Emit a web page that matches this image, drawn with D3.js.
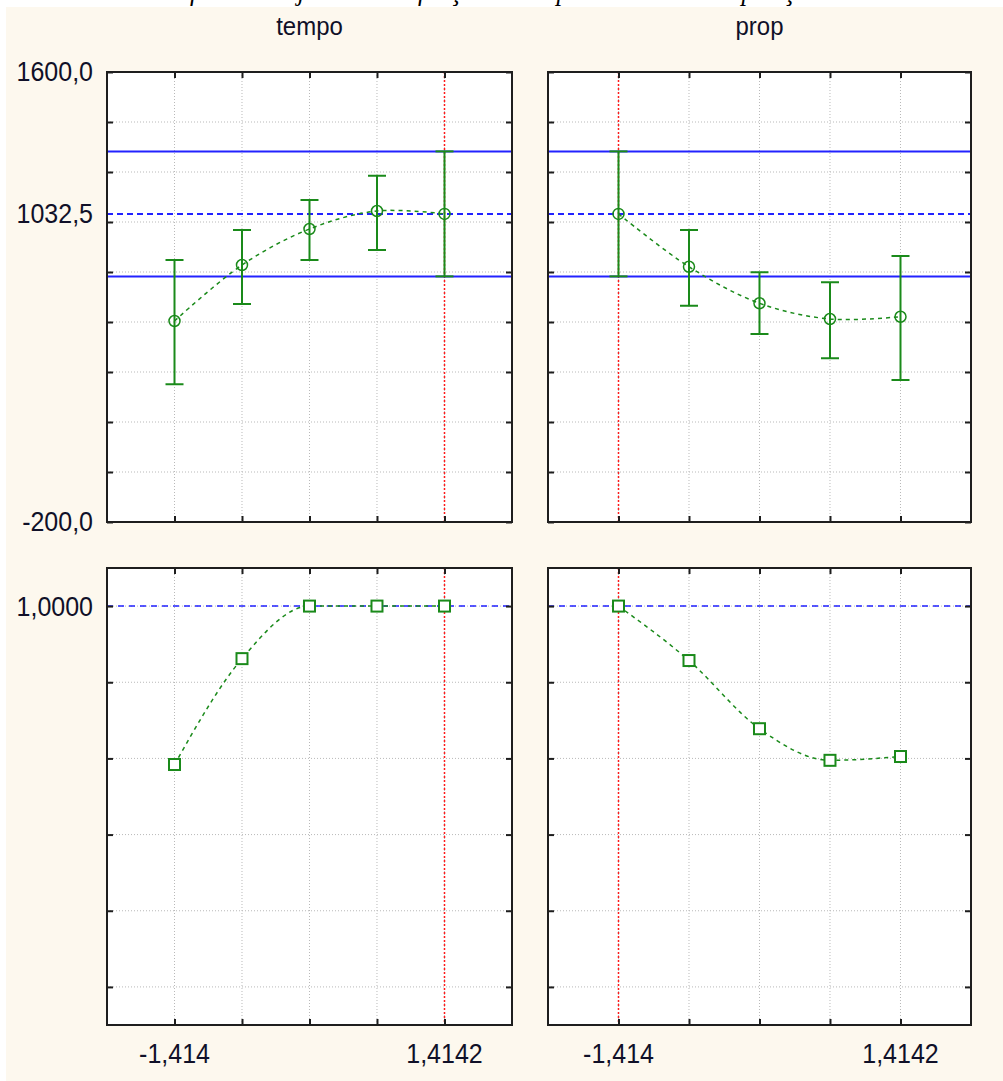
<!DOCTYPE html>
<html>
<head>
<meta charset="utf-8">
<script src="https://cdn.jsdelivr.net/npm/d3@7"></script>
<style>
  html, body { margin: 0; padding: 0; background: #ffffff; }
  svg { display: block; }
</style>
</head>
<body>
<svg id="chart" width="1003" height="1081"></svg>
<script>
// Factor levels (coded) and their tick labels
const levels = [-1.414, -0.707, 0, 0.707, 1.4142];
const levelLabels = ["-1,414", "", "", "", "1,4142"];

// Predicted response per level, with confidence limits
const tempoMean = [604, 828, 972, 1044, 1032.5];
const tempoLow  = [351, 672, 848, 888, 782.5];
const tempoHigh = [848, 968, 1088, 1185, 1282.5];

const propMean = [1032.5, 821, 675, 612, 621];
const propLow  = [782.5, 665, 552, 455, 368];
const propHigh = [1282.5, 968, 799, 759, 864];

// Desirability per level
const tempoDesir = [0.584, 0.862, 1, 1, 1];
const propDesir  = [1, 0.857, 0.678, 0.595, 0.605];

// Optimum response and its confidence band
const optimumValue = 1032.5;
const optimumBand = [782.5, 1282.5];
const optimumDesir = 1;
const optimumLevel = { tempo: 1.4142, prop: -1.414 };

// Axis settings and labels
const responseDomain = [-200, 1600];
const responseGrid = d3.range(-200, 1601, 200);
const responseLabels = [[1600, "1600,0"], [1032.5, "1032,5"], [-200, "-200,0"]];
const desirDomain = [-0.1, 1.1];
const desirGrid = [0, 0.2, 0.4, 0.6, 0.8, 1.0];
const desirLabels = [[1, "1,0000"]];

const svg = d3.select("#chart");
const W = 1003, H = 1081;

// Caption running off the top edge of the page
svg.append("text")
  .attr("x", 520).attr("y", 0)
  .attr("text-anchor", "middle")
  .attr("font-family", "Liberation Serif, Times New Roman, serif")
  .attr("font-style", "italic")
  .attr("font-size", 27)
  .attr("textLength", 735)
  .attr("lengthAdjust", "spacingAndGlyphs")
  .attr("fill", "#000")
  .text("Perfis de desejabilidade: função de respostas com a composição ótima");

// Page background
svg.append("rect")
  .attr("x", 6).attr("y", 7).attr("width", W - 6).attr("height", H - 7)
  .attr("fill", "#fdf8ee");

const FONT = "Liberation Sans, Arial, sans-serif";
const GREEN = "#1a8a1a";
const BLUE = "#2222ff";
const RED = "#ff1a1a";
const GRID = "#b9b9b9";
const FRAME = "#1e1e1e";
const INK = "#101028";

const cols = [
  { name: "tempo", x0: 107, x1: 512, mean: tempoMean, low: tempoLow, high: tempoHigh, desir: tempoDesir, opt: optimumLevel.tempo },
  { name: "prop",  x0: 548, x1: 971, mean: propMean,  low: propLow,  high: propHigh,  desir: propDesir,  opt: optimumLevel.prop }
];
const rows = [
  { kind: "response", y0: 72, y1: 522 },
  { kind: "desir",    y0: 568, y1: 1025 }
];

function label(g, x, y, txt, anchor, size) {
  g.append("text")
    .attr("transform", `translate(${x},${y}) scale(1,1.1)`)
    .attr("text-anchor", anchor)
    .attr("dominant-baseline", "central")
    .attr("font-family", FONT)
    .attr("font-size", size)
    .attr("fill", INK)
    .text(txt);
}

cols.forEach((c, ci) => {
  // column title
  svg.append("text")
    .attr("transform", `translate(${(c.x0 + c.x1) / 2},35) scale(1,1.08)`)
    .attr("text-anchor", "middle")
    .attr("font-family", FONT)
    .attr("font-size", 24)
    .attr("fill", INK)
    .text(c.name);

  const step = 0.7071;
  const x = d3.scaleLinear()
    .domain([levels[0] - step, levels[4] + step])
    .range([c.x0, c.x1]);

  rows.forEach((r, ri) => {
    const isResp = r.kind === "response";
    const y = d3.scaleLinear()
      .domain(isResp ? responseDomain : desirDomain)
      .range([r.y1, r.y0]);
    const grid = isResp ? responseGrid : desirGrid;
    const g = svg.append("g");

    // plot area
    g.append("rect")
      .attr("x", c.x0).attr("y", r.y0)
      .attr("width", c.x1 - c.x0).attr("height", r.y1 - r.y0)
      .attr("fill", "#fff");

    // dotted grid
    g.append("g").selectAll("line").data(grid.filter(v => y(v) > r.y0 + 1 && y(v) < r.y1 - 1)).join("line")
      .attr("x1", c.x0).attr("x2", c.x1)
      .attr("y1", d => y(d)).attr("y2", d => y(d))
      .attr("stroke", GRID).attr("stroke-width", 1).attr("stroke-dasharray", "1,2");
    g.append("g").selectAll("line").data(levels).join("line")
      .attr("x1", d => x(d)).attr("x2", d => x(d))
      .attr("y1", r.y0).attr("y2", r.y1)
      .attr("stroke", GRID).attr("stroke-width", 1).attr("stroke-dasharray", "1,2");

    // optimum level (red dotted)
    g.append("line")
      .attr("x1", x(c.opt)).attr("x2", x(c.opt))
      .attr("y1", r.y0).attr("y2", r.y1)
      .attr("stroke", RED).attr("stroke-width", 1.5).attr("stroke-dasharray", "2,2");

    if (isResp) {
      // confidence band of the optimum
      g.append("g").selectAll("line").data(optimumBand).join("line")
        .attr("x1", c.x0).attr("x2", c.x1)
        .attr("y1", d => y(d)).attr("y2", d => y(d))
        .attr("stroke", BLUE).attr("stroke-width", 2);
      g.append("line")
        .attr("x1", c.x0).attr("x2", c.x1)
        .attr("y1", y(optimumValue)).attr("y2", y(optimumValue))
        .attr("stroke", BLUE).attr("stroke-width", 2).attr("stroke-dasharray", "6,4");

      const pts = levels.map((l, i) => [x(l), y(c.mean[i])]);
      g.append("path")
        .attr("d", d3.line().curve(d3.curveCatmullRom)(pts))
        .attr("fill", "none").attr("stroke", GREEN).attr("stroke-width", 1.5)
        .attr("stroke-dasharray", "4,4");

      // error bars
      const eb = g.append("g").attr("stroke", GREEN).attr("stroke-width", 2);
      levels.forEach((l, i) => {
        const xx = x(l);
        eb.append("line").attr("x1", xx).attr("x2", xx).attr("y1", y(c.low[i])).attr("y2", y(c.high[i]));
        eb.append("line").attr("x1", xx - 9).attr("x2", xx + 9).attr("y1", y(c.low[i])).attr("y2", y(c.low[i]));
        eb.append("line").attr("x1", xx - 9).attr("x2", xx + 9).attr("y1", y(c.high[i])).attr("y2", y(c.high[i]));
      });
      g.append("g").selectAll("circle").data(levels).join("circle")
        .attr("cx", d => x(d)).attr("cy", (d, i) => y(c.mean[i]))
        .attr("r", 5.5)
        .attr("fill", "none").attr("stroke", GREEN).attr("stroke-width", 1.5);
    } else {
      g.append("line")
        .attr("x1", c.x0).attr("x2", c.x1)
        .attr("y1", y(optimumDesir)).attr("y2", y(optimumDesir))
        .attr("stroke", BLUE).attr("stroke-width", 1.5).attr("stroke-dasharray", "6,5");

      const pts = levels.map((l, i) => [x(l), y(c.desir[i])]);
      g.append("path")
        .attr("d", d3.line().curve(d3.curveMonotoneX)(pts))
        .attr("fill", "none").attr("stroke", GREEN).attr("stroke-width", 1.5)
        .attr("stroke-dasharray", "4,4");
      g.append("g").selectAll("rect").data(levels).join("rect")
        .attr("x", d => x(d) - 5.5).attr("y", (d, i) => y(c.desir[i]) - 5.5)
        .attr("width", 11).attr("height", 11)
        .attr("fill", "#fff").attr("stroke", GREEN).attr("stroke-width", 2);
    }

    // inward ticks on all four sides
    const tickStyle = sel => {
      sel.select(".domain").remove();
      sel.selectAll(".tick line").attr("stroke", FRAME).attr("stroke-width", 2);
      sel.selectAll(".tick text").remove();
    };
    g.append("g").attr("transform", `translate(0,${r.y1})`)
      .call(d3.axisBottom(x).tickValues(levels).tickSize(-6)).call(tickStyle);
    g.append("g").attr("transform", `translate(0,${r.y0})`)
      .call(d3.axisTop(x).tickValues(levels).tickSize(-6)).call(tickStyle);
    g.append("g").attr("transform", `translate(${c.x0},0)`)
      .call(d3.axisLeft(y).tickValues(grid).tickSize(-6)).call(tickStyle);
    g.append("g").attr("transform", `translate(${c.x1},0)`)
      .call(d3.axisRight(y).tickValues(grid).tickSize(-6)).call(tickStyle);

    // frame
    g.append("rect")
      .attr("x", c.x0).attr("y", r.y0)
      .attr("width", c.x1 - c.x0).attr("height", r.y1 - r.y0)
      .attr("fill", "none").attr("stroke", FRAME).attr("stroke-width", 2);

    // value labels on the left column
    if (ci === 0) {
      const labs = isResp ? responseLabels : desirLabels;
      labs.forEach(([v, t]) => label(svg, 93, y(v), t, "end", 25));
    }
    // level labels under the bottom row
    if (ri === 1) {
      levels.forEach((l, i) => {
        if (levelLabels[i]) label(svg, x(l), 1054, levelLabels[i], "middle", 25);
      });
    }
  });
});
</script>
</body>
</html>
